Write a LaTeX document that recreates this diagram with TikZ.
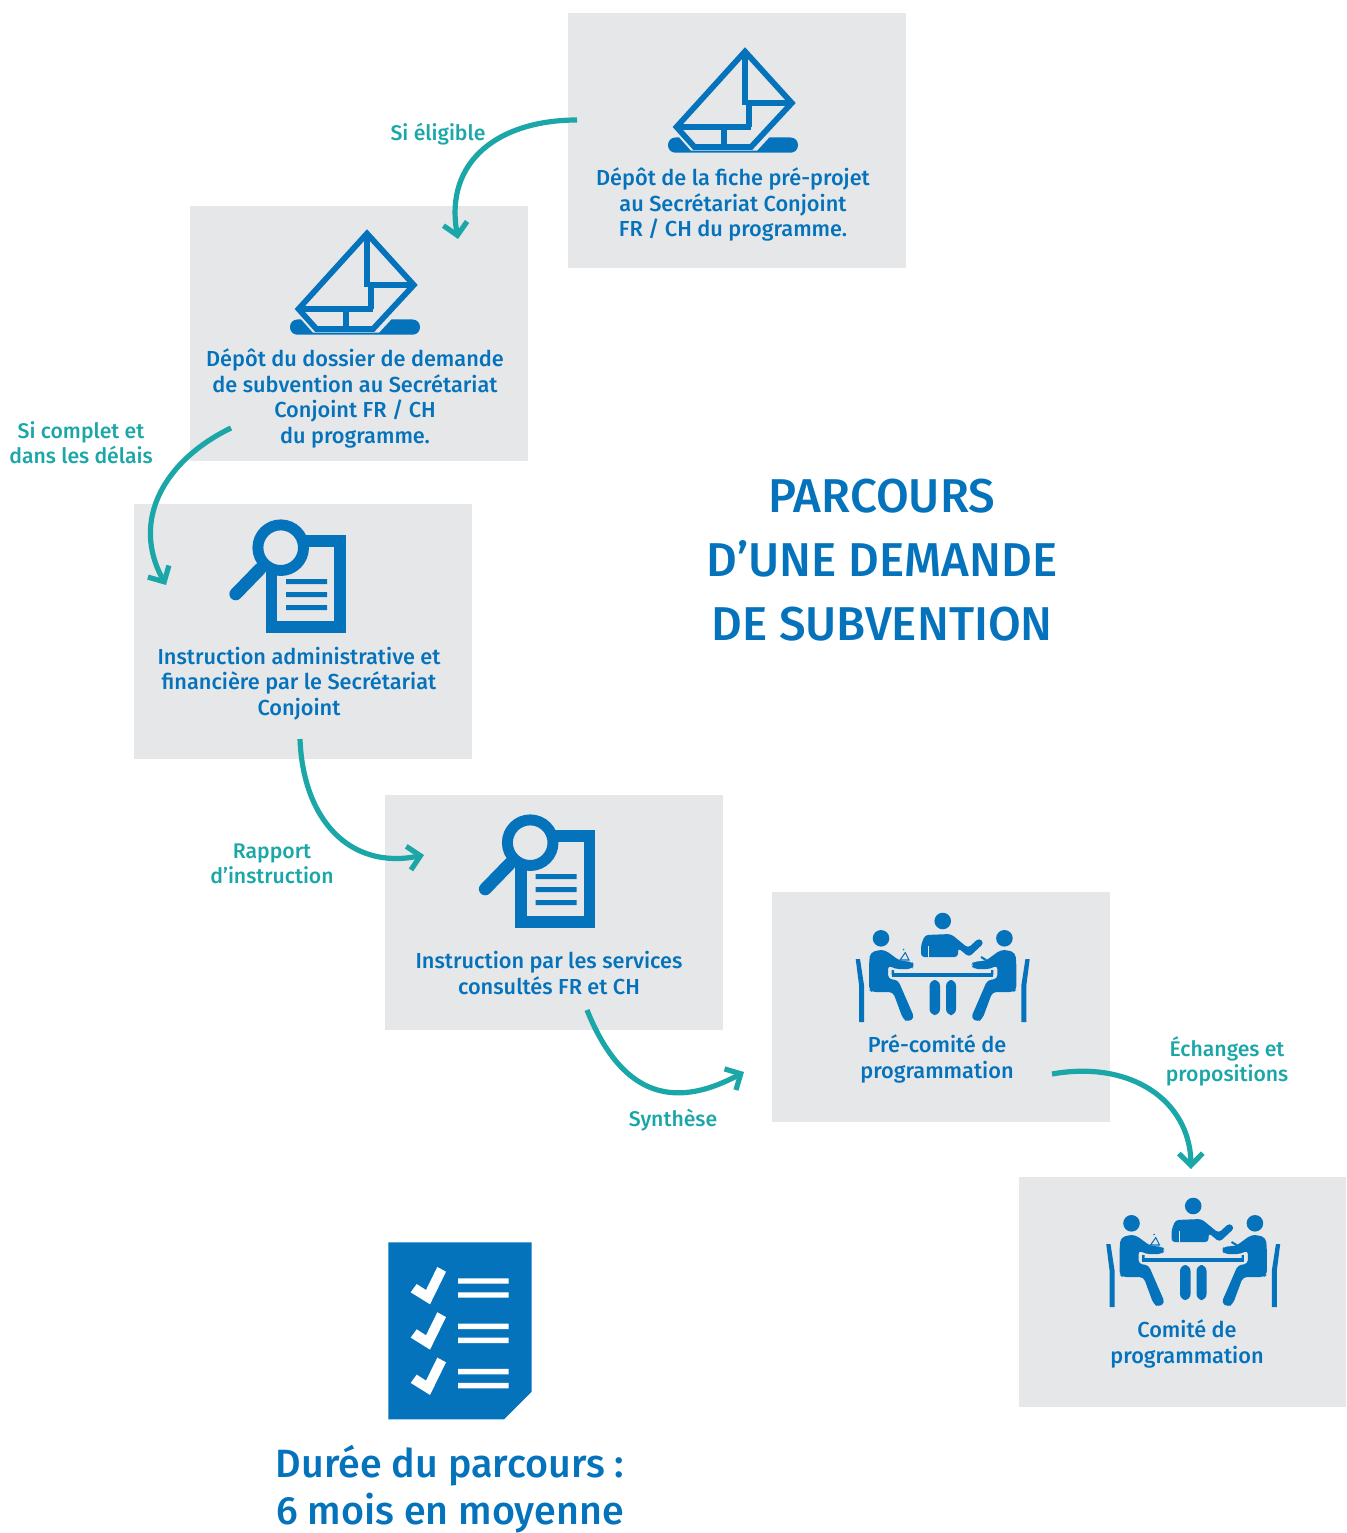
\documentclass[tikz,border=0pt]{standalone}
\usepackage{fontspec}
\setmainfont{Fira Sans Medium}
\usetikzlibrary{arrows.meta}
\definecolor{bxgrey}{HTML}{E6E7E9}
\definecolor{icblue}{HTML}{0573BC}
\definecolor{arteal}{HTML}{1BA6A8}
\tikzset{
 x=0.75pt,y=-0.75pt,
 panel/.style={fill=bxgrey,draw=none},
 boxtext/.style={text=icblue,align=center,font=\fontsize{16.3}{19.15}\selectfont,inner sep=0pt},
 steplabel/.style={text=arteal,align=center,font=\fontsize{15.9}{19}\selectfont,inner sep=0pt},
 flow/.style={draw=arteal,line width=3.9pt,-{Straight Barb[length=9pt,width=18pt,line width=3.9pt]}},
 boat/.pic={
  \fill[icblue,rounded corners=5.5pt] (668,137.5) rectangle (798,152.7);
  \fill[bxgrey] (670,127)--(691,150.7)--(757,150.7)--(799,105)--(745,45)--cycle;
  \draw[icblue,line width=4.3pt,miter limit=10] (745,51.5)--(791.8,103)--(751,147)--(694.5,147)--(676.5,127)--cycle;
  \draw[icblue,line width=4.5pt] (677,127.3)--(751,127.3) (748.7,127.3)--(748.7,101) (745,52)--(745,105) (746,103)--(790,103);
  \draw[icblue,line width=4.5pt] (724.3,127)--(724.3,147);
 },
 lens/.pic={
  \draw[icblue,line width=8.6pt] (271.5,541)rectangle(340,627);
  \fill[icblue] (286,579)rectangle(327,584) (286,592)rectangle(327,597) (286,605)rectangle(327,610);
  \draw[icblue,line width=9.5pt,line cap=round] (235.7,594)--(260,569);
  \draw[icblue,line width=8.2pt,fill=bxgrey] (280.7,547.7) circle (22.8);
 },
 person/.pic={
  \fill[icblue] (881,938.3) circle (8.3);
  \fill[icblue,rounded corners=3pt] (869,990)--(869,965)--(870,953)--(878,950)--(885,950)--(900,961)--(912,961.5)--(914,965)--(912,969)--(895,969)--(888,965)--(888,979)--(898,980)--(914.5,1018)--(908,1022)--(903,1019)--(893,992)--(872,992)--cycle;
  \fill[icblue] (855.7,959)--(860,959)--(864,985)--(864,1022)--(859,1022)--(859,985)--cycle;
 },
 meeting/.pic={
  \fill[icblue] (942.7,921) circle (8.3);
  \fill[icblue,rounded corners=2.5pt] (921,957)--(921,945)--(925,935)--(951,934)--(968,948)--(979,938)--(984,943)--(969,957)--(958,948)--(958,957)--cycle;
  \fill[bxgrey] (928,946)rectangle(929,957);
  \pic {person};
  \pic[xscale=-1] at (1885.4,0) {person};
  \draw[icblue,line width=.8pt] (900,960)--(905,953) (905,952)--(909,960)--(900,960) (903,950)--(904,949);
  \draw[icblue,line width=1.5pt] (981,957)--(986,960);
  \fill[icblue] (891.7,973.3)rectangle(993.3,977);
  \fill[icblue] (891.7,970)rectangle(894,975) (991,970)rectangle(993.3,975);
  \fill[icblue,rounded corners=4.5pt] (929.5,980)rectangle(940,1015) (946,980)rectangle(956,1015);
 },
}
\begin{document}
\begin{tikzpicture}
\useasboundingbox (0,0) rectangle (1346,1533);
\fill[panel] (568,13)rectangle(906,268);
\fill[panel] (190,206)rectangle(528,461);
\fill[panel] (134,504)rectangle(472,759);
\fill[panel] (385,795)rectangle(723,1030);
\fill[panel] (772,892)rectangle(1110,1122);
\fill[panel] (1019,1177)rectangle(1346,1407);

\pic at (0,0) {boat};
\pic at (-378,182) {boat};
\pic at (0,0) {lens};
\pic at (249.5,295) {lens};
\pic at (0,0) {meeting};
\pic at (250.5,285) {meeting};

\node[boxtext] (t1) at (733,204.5) {Dépôt de la fiche pré-projet\\au Secrétariat Conjoint\\FR / CH du programme.};
\node[boxtext] (t2) at (355,398.5) {Dépôt du dossier de demande\\de subvention au Secrétariat\\Conjoint FR / CH\\du programme.};
\node[boxtext] (t3) at (299,683.5) {Instruction administrative et\\financière par le Secrétariat\\Conjoint};
\node[boxtext] (t4) at (549,973) {Instruction par les services\\consultés FR et CH};
\node[boxtext] (t5) at (937,1059) {Pré-comité de\\programmation};
\node[boxtext] (t6) at (1187,1344) {Comité de\\programmation};

\node[steplabel] (l1) at (438,134) {Si éligible};
\node[steplabel] (l2) at (81,443) {Si complet et\\dans les délais};
\node[steplabel] (l3) at (272,864) {Rapport\\d’instruction};
\node[steplabel] (l4) at (673,1120) {Synthèse};
\node[steplabel] (l5) at (1227,1061.5) {Échanges et\\propositions};

\node[text=icblue,align=center,inner sep=0pt,font=\fontsize{35.6}{47.7}\selectfont] (title) at (882,560) {PARCOURS\\D’UNE DEMANDE\\DE SUBVENTION};
\node[text=icblue,align=center,inner sep=0pt,font=\fontsize{29.6}{34.8}\selectfont] (dur) at (450,1489) {Durée du parcours :\\6 mois en moyenne};

\fill[icblue] (388.3,1242.3)--(531.7,1242.3)--(531.7,1391.7)--(504,1419.3)--(388.3,1419.3)--cycle;
\foreach \d in {0,45.3,90.6}{
 \fill[white] (410.7,1292.3+\d)--(416.7,1284+\d)--(426,1290+\d)--(437.3,1267+\d)--(446,1271.7+\d)--(430,1304.3+\d)--cycle;
 \fill[white] (458,1278.3+\d)rectangle(508.7,1283.7+\d) (458,1292.3+\d)rectangle(508.7,1297.7+\d);
}

\coordinate (a1s) at (577,120); \coordinate (a1e) at (458,239);
\coordinate (a2s) at (231,428); \coordinate (a2e) at (166,585);
\coordinate (a3s) at (300,739); \coordinate (a3e) at (424,855);
\coordinate (a4s) at (587,1010); \coordinate (a4e) at (744,1072);
\coordinate (a5s) at (1052,1074); \coordinate (a5e) at (1191,1169);
\draw[flow] (a1s) .. controls (500,120) and (444,160) .. (a1e);
\draw[flow] (a2s) .. controls (165,460) and (130,520) .. (a2e);
\draw[flow] (a3s) .. controls (303,820) and (350,870) .. (a3e);
\draw[flow] (a4s) .. controls (620,1092) and (670,1112) .. (a4e);
\draw[flow] (a5s) .. controls (1130,1060) and (1190,1100) .. (a5e);
\end{tikzpicture}
\end{document}
